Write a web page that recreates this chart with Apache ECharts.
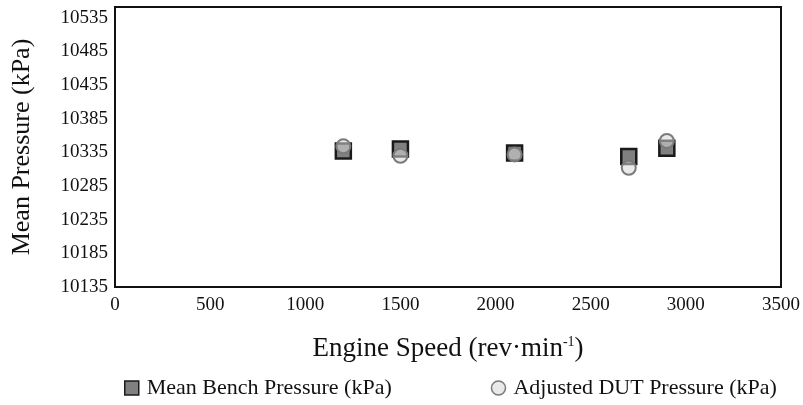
<!DOCTYPE html>
<html>
<head>
<meta charset="utf-8">
<script src="https://cdn.jsdelivr.net/npm/echarts@6/dist/echarts.min.js"></script>
<style>html,body{margin:0;padding:0;background:#fff}#c{width:803px;height:405px}</style>
</head>
<body>
<div id="c"></div>
<script>
const engineSpeed = [1200, 1500, 2100, 2700, 2900];
const meanBench = [10337, 10340, 10334, 10329, 10341];
const adjustedDut = [10344, 10330, 10332, 10312, 10352];
const seriesNames = ['Mean Bench Pressure (kPa)', 'Adjusted DUT Pressure (kPa)'];

const F = 'Liberation Serif, Times New Roman, serif';
const chart = echarts.init(document.getElementById('c'), null, {renderer: 'canvas'});
chart.setOption({
  animation: false,
  backgroundColor: '#fff',
  grid: {left: 115, right: 18, top: 7, bottom: 118, show: true, borderColor: '#111', borderWidth: 2, backgroundColor: 'transparent'},
  legend: {
    left: 119, top: 372, itemGap: 99, itemWidth: 14, itemHeight: 14, itemStyle: {borderWidth: 1.5},
    textStyle: {fontFamily: F, fontSize: 22, color: '#111', padding: [0,0,0,3]},
    data: [{name: seriesNames[0], icon: 'rect'}, {name: seriesNames[1], icon: 'circle'}]
  },
  xAxis: {
    type: 'value', min: 0, max: 3500, interval: 500,
    axisLine: {show: true, lineStyle: {color: '#111', width: 2}},
    axisTick: {show: false}, splitLine: {show: false},
    axisLabel: {fontFamily: F, fontSize: 19, color: '#111', margin: 9, formatter: v => String(v)},
    name: 'Engine Speed (rev·min{s|-1})', nameLocation: 'middle', nameGap: 48,
    nameTextStyle: {fontFamily: F, fontSize: 27, color: '#111',
      rich: {s: {fontFamily: F, fontSize: 14, color: '#111', padding: [0,0,12,0]}}}
  },
  yAxis: {
    type: 'value', min: 10135, max: 10551, interval: 50,
    axisLine: {show: true, lineStyle: {color: '#111', width: 2}},
    axisTick: {show: false}, splitLine: {show: false},
    axisLabel: {fontFamily: F, fontSize: 19, color: '#111', margin: 7, showMaxLabel: false, formatter: v => String(v)},
    name: 'Mean Pressure (kPa)', nameLocation: 'middle', nameGap: 80,
    nameTextStyle: {fontFamily: F, fontSize: 26, color: '#111'}
  },
  series: [
    {
      name: seriesNames[0], type: 'scatter', symbol: 'rect', symbolSize: 15,
      itemStyle: {color: '#808080', borderColor: '#1a1a1a', borderWidth: 2.5, opacity: 1},
      data: engineSpeed.map((x, i) => [x, meanBench[i]])
    },
    {
      name: seriesNames[1], type: 'scatter', symbol: 'circle', symbolSize: 14,
      itemStyle: {color: 'rgba(215,215,215,0.55)', borderColor: '#7a7a7a', borderWidth: 2, opacity: 1},
      data: engineSpeed.map((x, i) => [x, adjustedDut[i]])
    }
  ]
});
</script>
</body>
</html>
